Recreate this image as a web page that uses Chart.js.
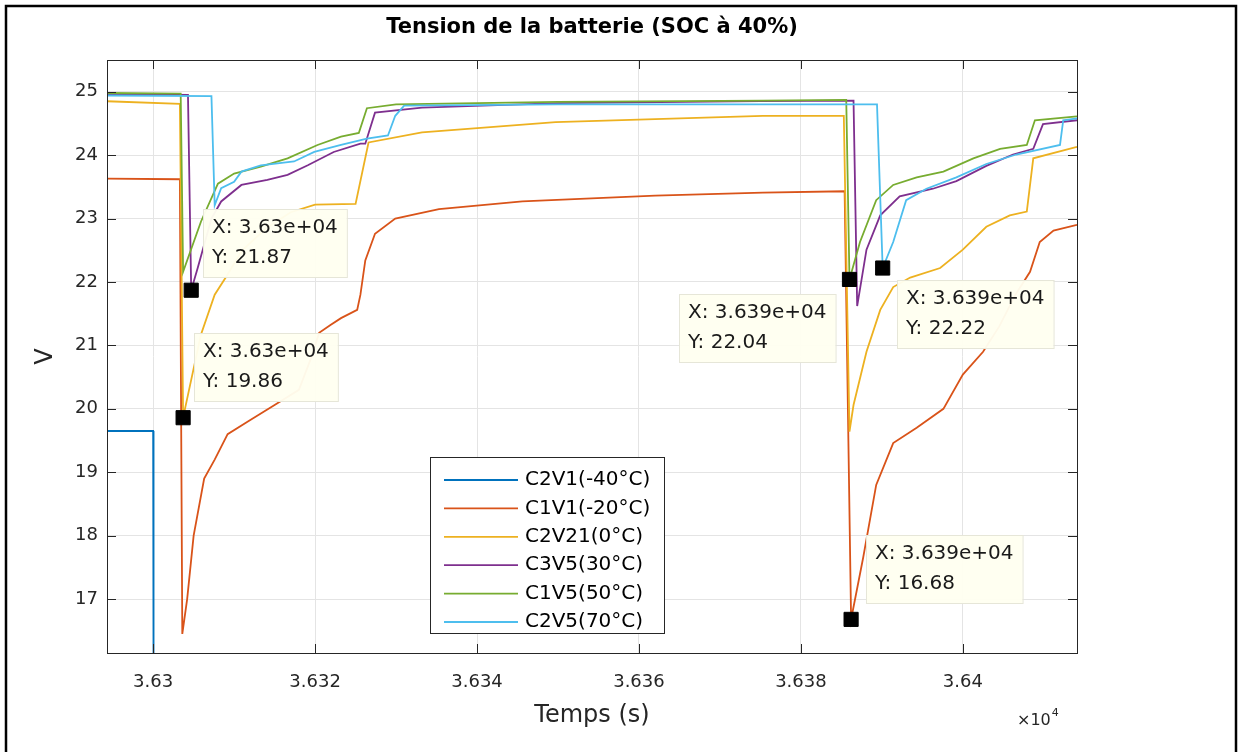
<!DOCTYPE html>
<html>
<head>
<meta charset="utf-8">
<title>Tension de la batterie (SOC à 40%)</title>
<script src="https://cdn.jsdelivr.net/npm/chart.js@4.4.0/dist/chart.umd.min.js"></script>
<style>
    html, body { margin: 0; padding: 0; background: #fff; }
    canvas { display: block; }
</style>
</head>
<body>
<canvas id="soc-chart" width="1238" height="752"></canvas>
<script>
// Series: time (s) and battery voltage (V)
const seriesNames = ['C2V1(-40°C)', 'C1V1(-20°C)', 'C2V21(0°C)', 'C3V5(30°C)', 'C1V5(50°C)', 'C2V5(70°C)'];

const timeC2V1 = [36294.3, 36300.0, 36300.05];
const voltC2V1 = [19.65, 19.65, 15.6];

const timeC1V1 = [36294.3, 36303.3, 36303.6, 36304.2, 36305.0, 36306.3, 36307.6, 36309.2, 36311.7, 36315.0,
    36318.0, 36319.5, 36320.5, 36321.9, 36323.2, 36325.2, 36325.6, 36326.2, 36327.4, 36329.9,
    36335.3, 36345.6, 36362.0, 36375.3, 36385.4, 36386.2, 36387.7, 36389.3, 36391.4, 36394.3,
    36397.6, 36400.0, 36402.5, 36404.5, 36406.5, 36408.3, 36409.5, 36411.2, 36414.1];
const voltC1V1 = [23.63, 23.62, 16.45, 17.0, 18.0, 18.9, 19.2, 19.6, 19.8, 20.06,
    20.3, 20.8, 21.2, 21.32, 21.43, 21.56, 21.8, 22.34, 22.76, 23.0,
    23.15, 23.27, 23.36, 23.41, 23.43, 16.68, 17.66, 18.8, 19.46, 19.7,
    20.0, 20.54, 20.9, 21.3, 21.8, 22.16, 22.63, 22.81, 22.9];

const timeC2V21 = [36294.3, 36303.3, 36303.7, 36304.3, 36305.9, 36307.6, 36309.0, 36311.0, 36314.0, 36317.0,
    36320.0, 36325.0, 36326.6, 36333.2, 36349.7, 36375.3, 36385.3, 36386.0, 36386.5, 36388.1,
    36389.8, 36391.4, 36393.5, 36397.2, 36400.0, 36402.9, 36405.8, 36407.9, 36408.7, 36414.1];
const voltC2V21 = [24.85, 24.81, 19.86, 20.22, 21.17, 21.8, 22.08, 22.5, 22.85, 23.1,
    23.22, 23.23, 24.2, 24.36, 24.52, 24.62, 24.62, 19.64, 20.06, 20.9,
    21.56, 21.92, 22.07, 22.22, 22.51, 22.87, 23.05, 23.11, 23.95, 24.13];

const timeC3V5 = [36294.3, 36304.3, 36304.7, 36305.5, 36307.2, 36308.4, 36310.9, 36314.1, 36316.6, 36319.1,
    36322.3, 36325.6, 36326.2, 36327.4, 36333.2, 36350.0, 36375.0, 36386.5, 36386.95, 36388.1,
    36389.8, 36392.2, 36396.3, 36399.2, 36402.9, 36406.2, 36408.7, 36409.9, 36414.1];
const voltC3V5 = [24.96, 24.95, 21.87, 22.22, 23.0, 23.27, 23.53, 23.61, 23.69, 23.84,
    24.05, 24.18, 24.18, 24.67, 24.75, 24.82, 24.85, 24.86, 21.62, 22.51,
    23.05, 23.35, 23.47, 23.59, 23.83, 24.01, 24.1, 24.49, 24.55];

const timeC1V5 = [36294.3, 36303.4, 36303.7, 36305.9, 36308.0, 36310.0, 36313.3, 36316.6, 36320.3, 36323.2,
    36325.4, 36326.4, 36330.0, 36350.0, 36375.3, 36385.6, 36386.0, 36387.3, 36389.3, 36391.4,
    36394.3, 36397.6, 36401.3, 36404.6, 36407.9, 36408.9, 36414.1];
const voltC1V5 = [24.98, 24.97, 22.16, 22.95, 23.55, 23.71, 23.82, 23.95, 24.16, 24.29,
    24.35, 24.74, 24.8, 24.84, 24.86, 24.87, 22.04, 22.63, 23.29, 23.53,
    23.65, 23.74, 23.95, 24.1, 24.16, 24.55, 24.61];

const timeC2V5 = [36294.3, 36307.2, 36307.6, 36308.4, 36310.0, 36310.9, 36313.3, 36317.4, 36319.9, 36323.2,
    36326.4, 36329.0, 36329.9, 36331.0, 36350.0, 36389.4, 36390.1, 36391.4, 36393.0, 36395.5,
    36399.2, 36402.9, 36406.6, 36412.0, 36412.4, 36414.1];
const voltC2V5 = [24.94, 24.93, 23.21, 23.48, 23.58, 23.74, 23.84, 23.9, 24.05, 24.16,
    24.26, 24.31, 24.62, 24.78, 24.8, 24.8, 22.22, 22.63, 23.29, 23.47,
    23.65, 23.86, 24.01, 24.16, 24.55, 24.58];

// Data tips shown on the figure
const tipTime = [36304.7, 36303.7, 36386.0, 36390.1, 36386.2];
const tipVolt = [21.87, 19.86, 22.04, 22.22, 16.68];

// Axis limits and ticks
const xLimits = [36294.3, 36414.1];
const yLimits = [16.15, 25.5];
const xTickValues = [36300, 36320, 36340, 36360, 36380, 36400];
const yTickValues = [17, 18, 19, 20, 21, 22, 23, 24, 25];

// Styles (MATLAB default colour order)
const seriesColors = ['#0072BD', '#D95319', '#EDB120', '#7E2F8E', '#77AC30', '#4DBEEE'];
const AXIS_COLOR = '#262626';
const GRID_COLOR = '#e4e4e4';
const FONT = 'DejaVu Sans';
const TICK_LEN = 9;
// box top-left offset (px) from each data tip marker
const tipOffsetX = [12, 11, -170, 14, 15];
const tipOffsetY = [-81, -85, 15, 12, -84];

function zip(xs, ys) {
    return xs.map((x, i) => ({ x: x, y: ys[i] }));
}

// MATLAB-like %.4g formatting: 36304.7 -> 3.63e+04
function fmtG(v) {
    const s = Number(v).toPrecision(4);
    if (s.indexOf('e') < 0) return s;
    const [m, e] = s.split('e');
    const exp = parseInt(e, 10);
    const mant = parseFloat(m).toString();
    return mant + 'e' + (exp < 0 ? '-' : '+') + String(Math.abs(exp)).padStart(2, '0');
}

const seriesTimes = [timeC2V1, timeC1V1, timeC2V21, timeC3V5, timeC1V5, timeC2V5];
const seriesVolts = [voltC2V1, voltC1V1, voltC2V21, voltC3V5, voltC1V5, voltC2V5];

const datasets = seriesNames.map((name, i) => ({
    label: name,
    data: zip(seriesTimes[i], seriesVolts[i]),
    showLine: true,
    borderColor: seriesColors[i],
    backgroundColor: seriesColors[i],
    borderWidth: 1.8,
    pointRadius: 0,
    tension: 0,
    order: seriesNames.length - i
}));

datasets.push({
    label: 'tips',
    data: zip(tipTime, tipVolt),
    showLine: false,
    pointStyle: 'rect',
    pointRadius: 10,
    borderWidth: 1,
    borderColor: '#000',
    backgroundColor: '#000',
    order: -1
});

/**
 * Axes box, inward ticks, figure border and the x10^4 exponent
 */
const framePlugin = {
    id: 'matlabFrame',
    beforeDraw(chart) {
        const ctx = chart.ctx;
        ctx.save();
        ctx.fillStyle = '#fff';
        ctx.fillRect(0, 0, chart.width, chart.height);
        ctx.strokeStyle = '#000';
        ctx.lineWidth = 2.5;
        ctx.strokeRect(6, 6, 1230, 800);
        ctx.restore();
    },
    afterDatasetsDraw(chart) {
        const { ctx, chartArea: a, scales: { x, y } } = chart;
        ctx.save();
        ctx.strokeStyle = AXIS_COLOR;
        ctx.lineWidth = 1;
        ctx.beginPath();
        x.ticks.forEach(t => {
            const px = Math.round(x.getPixelForValue(t.value)) + 0.5;
            ctx.moveTo(px, a.bottom); ctx.lineTo(px, a.bottom - TICK_LEN);
            ctx.moveTo(px, a.top); ctx.lineTo(px, a.top + TICK_LEN);
        });
        y.ticks.forEach(t => {
            const py = Math.round(y.getPixelForValue(t.value)) + 0.5;
            ctx.moveTo(a.left, py); ctx.lineTo(a.left + TICK_LEN, py);
            ctx.moveTo(a.right, py); ctx.lineTo(a.right - TICK_LEN, py);
        });
        ctx.stroke();
        ctx.strokeRect(Math.round(a.left) + 0.5, Math.round(a.top) + 0.5,
            Math.round(a.right - a.left), Math.round(a.bottom - a.top));

        // exponent under the x axis
        ctx.fillStyle = AXIS_COLOR;
        ctx.textBaseline = 'alphabetic';
        ctx.textAlign = 'left';
        ctx.font = '16px ' + FONT;
        const ex = a.right - 60, ey = a.bottom + 72;
        ctx.fillText('\u00d710', ex, ey);
        const w = ctx.measureText('\u00d710').width;
        ctx.font = '11px ' + FONT;
        ctx.fillText('4', ex + w + 1, ey - 9);
        ctx.restore();
    }
};

/**
 * Boxed legend inside the axes
 */
const legendPlugin = {
    id: 'boxLegend',
    afterDatasetsDraw(chart) {
        const ctx = chart.ctx;
        const box = { left: 430, top: 457, width: 234, height: 176 };
        ctx.save();
        ctx.fillStyle = '#fff';
        ctx.fillRect(box.left, box.top, box.width, box.height);
        ctx.strokeStyle = AXIS_COLOR;
        ctx.lineWidth = 1;
        ctx.strokeRect(box.left + 0.5, box.top + 0.5, box.width, box.height);
        ctx.font = '20px ' + FONT;
        ctx.textBaseline = 'middle';
        ctx.textAlign = 'left';
        seriesNames.forEach((name, i) => {
            const yy = box.top + 23 + i * 28.4;
            ctx.strokeStyle = seriesColors[i];
            ctx.lineWidth = 1.8;
            ctx.beginPath();
            ctx.moveTo(box.left + 14, yy);
            ctx.lineTo(box.left + 88, yy);
            ctx.stroke();
            ctx.fillStyle = '#000';
            ctx.fillText(name, box.left + 95, yy);
        });
        ctx.restore();
    }
};

/**
 * MATLAB style data tip boxes next to the black markers
 */
const dataTipPlugin = {
    id: 'dataTips',
    afterDatasetsDraw(chart) {
        const { ctx, scales: { x, y } } = chart;
        ctx.save();
        ctx.font = '20px ' + FONT;
        ctx.textBaseline = 'middle';
        ctx.textAlign = 'left';
        tipTime.forEach((t, i) => {
            const mx = x.getPixelForValue(t);
            const my = y.getPixelForValue(tipVolt[i]);
            const line1 = 'X: ' + fmtG(t);
            const line2 = 'Y: ' + fmtG(tipVolt[i]);
            const w = Math.max(ctx.measureText(line1).width, ctx.measureText(line2).width) + 18;
            const h = 68;
            const left = Math.round(mx + tipOffsetX[i]);
            const top = Math.round(my + tipOffsetY[i]);
            ctx.fillStyle = 'rgba(255, 255, 240, 0.96)';
            ctx.fillRect(left, top, w, h);
            ctx.strokeStyle = '#e6e6d8';
            ctx.lineWidth = 1;
            ctx.strokeRect(left + 0.5, top + 0.5, w, h);
            ctx.fillStyle = '#1a1a1a';
            ctx.fillText(line1, left + 9, top + 19);
            ctx.fillText(line2, left + 9, top + 49);
        });
        ctx.restore();
    }
};

const ctx = document.getElementById('soc-chart').getContext('2d');

const socChart = new Chart(ctx, {
    type: 'scatter',
    data: { datasets: datasets },
    plugins: [framePlugin, legendPlugin, dataTipPlugin],
    options: {
        responsive: false,
        animation: false,
        devicePixelRatio: 1,
        layout: {
            padding: { top: 0, left: 0, right: 161, bottom: 0 }
        },
        plugins: {
            legend: { display: false },
            tooltip: { enabled: false },
            title: {
                display: true,
                text: 'Tension de la batterie (SOC à 40%)',
                fullSize: false,
                color: '#000',
                font: { family: FONT, size: 21, weight: 'bold' },
                padding: { top: 15.4, bottom: 19.4 }
            }
        },
        scales: {
            x: {
                type: 'linear',
                min: xLimits[0],
                max: xLimits[1],
                afterFit: s => { s.height = 99; },
                afterBuildTicks: s => { s.ticks = xTickValues.map(v => ({ value: v })); },
                border: { display: false },
                grid: { color: GRID_COLOR, drawTicks: false },
                ticks: {
                    padding: 19,
                    maxRotation: 0,
                    autoSkip: false,
                    color: AXIS_COLOR,
                    font: { family: FONT, size: 18 },
                    callback: v => parseFloat((v / 1e4).toFixed(4)).toString()
                },
                title: {
                    display: true,
                    text: 'Temps (s)',
                    color: AXIS_COLOR,
                    font: { family: FONT, size: 24 },
                    padding: { top: 0, bottom: 22 }
                }
            },
            y: {
                type: 'linear',
                min: yLimits[0],
                max: yLimits[1],
                afterFit: s => { s.width = 107; },
                afterBuildTicks: s => { s.ticks = yTickValues.map(v => ({ value: v })); },
                border: { display: false },
                grid: { color: GRID_COLOR, drawTicks: false },
                ticks: {
                    padding: 9,
                    autoSkip: false,
                    color: AXIS_COLOR,
                    font: { family: FONT, size: 18 }
                },
                title: {
                    display: true,
                    text: 'V',
                    color: AXIS_COLOR,
                    font: { family: FONT, size: 24 },
                    padding: { top: 31, bottom: 0 }
                }
            }
        }
    }
});
</script>
</body>
</html>
